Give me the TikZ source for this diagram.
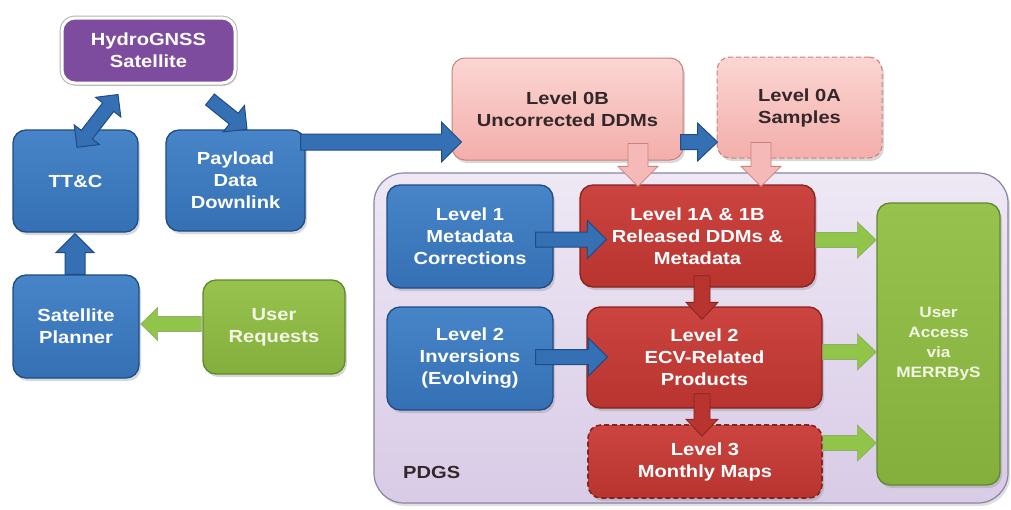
\documentclass[tikz,border=0pt]{standalone}
\usepackage{fontspec}
\newfontfamily\lab{Liberation Sans}[FakeStretch=1.15]
\usetikzlibrary{calc,shadows}
\definecolor{bluetop}{HTML}{4784C8}
\definecolor{bluebot}{HTML}{3570B4}
\definecolor{blueline}{HTML}{1F4C84}
\definecolor{redtop}{HTML}{CC4440}
\definecolor{redbot}{HTML}{B8342F}
\definecolor{redline}{HTML}{862321}
\definecolor{pinktop}{HTML}{FBD6D3}
\definecolor{pinkbot}{HTML}{F3AEAA}
\definecolor{pinkline}{HTML}{CC807A}
\definecolor{greentop}{HTML}{98C24E}
\definecolor{greenbot}{HTML}{84AF3C}
\definecolor{greenline}{HTML}{5E892C}
\definecolor{purplefill}{HTML}{7D4C9E}
\definecolor{pdgstop}{HTML}{EEE8F5}
\definecolor{pdgsbot}{HTML}{D8CBE6}
\definecolor{pdgsline}{HTML}{8C83A3}
\definecolor{darktext}{HTML}{33272A}
\definecolor{greentext}{HTML}{F3F7E6}
\newcommand\blockarrow[6]{%
  \coordinate (bac) at ($(#2)!#5!(#1)$);
  \draw[#6] ($(#1)!#3!90:(#2)$) -- ($(bac)!#3!90:(#2)$) -- ($(bac)!#4!90:(#2)$) -- (#2)
    -- ($(bac)!#4!-90:(#2)$) -- ($(bac)!#3!-90:(#2)$) -- ($(#1)!#3!-90:(#2)$) -- cycle;
}
\newcommand\dblarrow[6]{%
  \coordinate (dac) at ($(#1)!#5!(#2)$);
  \coordinate (dad) at ($(#2)!#5!(#1)$);
  \draw[#6] (#1) -- ($(dac)!#4!90:(#2)$) -- ($(dac)!#3!90:(#2)$) -- ($(dad)!#3!90:(#2)$)
    -- ($(dad)!#4!90:(#2)$) -- (#2) -- ($(dad)!#4!-90:(#2)$) -- ($(dad)!#3!-90:(#2)$)
    -- ($(dac)!#3!-90:(#2)$) -- ($(dac)!#4!-90:(#2)$) -- cycle;
}
\tikzset{
  boxbase/.style={rounded corners=13pt, align=center, inner sep=2pt,
    font=\lab\bfseries\fontsize{17.5}{22}\selectfont,
    drop shadow={shadow xshift=2pt, shadow yshift=-3pt, opacity=0.3}},
  bluebox/.style={boxbase, top color=bluetop, bottom color=bluebot, draw=blueline, line width=1.3pt, text=white},
  redbox/.style={boxbase, top color=redtop, bottom color=redbot, draw=redline, line width=1.3pt, text=white},
  pinkbox/.style={boxbase, top color=pinktop, bottom color=pinkbot, draw=pinkline, line width=1pt, text=darktext},
  greenbox/.style={boxbase, top color=greentop, bottom color=greenbot, draw=greenline, line width=1.3pt, text=greentext},
  purplebox/.style={boxbase, fill=purplefill, draw=white, line width=3pt, text=white,
    preaction={draw=black!30, line width=5pt}},
  pdgsbox/.style={rounded corners=30pt, top color=pdgstop, bottom color=pdgsbot, draw=pdgsline, line width=1.2pt,
    drop shadow={shadow xshift=2pt, shadow yshift=-3pt, opacity=0.25}},
  dashedline/.style={dash pattern=on 5pt off 3pt},
  bluearrow/.style={fill=bluebot, draw=blueline, line width=1pt, line join=miter},
  pinkarrow/.style={fill=pinkbot!85!white, draw=pinkline, line width=0.8pt, line join=miter},
  redarrow/.style={fill=redbot, draw=redline, line width=0.8pt, line join=miter},
  greenarrow/.style={fill=greentop!95!green, draw=greenline!70, line width=0.6pt, line join=miter},
  lbl/.style={font=\lab\bfseries\fontsize{17.5}{22}\selectfont, text=darktext, inner sep=0pt}
}
\begin{document}
\begin{tikzpicture}[x=1pt,y=-1pt]
\useasboundingbox[fill=white] (0,0) rectangle (1011,509);
% container
\node[pdgsbox, minimum width=634pt, minimum height=330pt] (pdgs) at (691,338) {};
\node[lbl, anchor=west] (pdgslbl) at (403,472) {PDGS};
% left part
\node[purplebox, minimum width=173pt, minimum height=65pt] (sat) at (148.5,50.5) {HydroGNSS\\Satellite};
\node[bluebox, minimum width=125pt, minimum height=102pt] (ttc) at (75.5,181) {TT\&C};
\node[bluebox, minimum width=139pt, minimum height=101pt] (pdl) at (235.5,180.5) {Payload\\Data\\Downlink};
\node[bluebox, minimum width=126pt, minimum height=103pt] (plan) at (76,326.5) {Satellite\\Planner};
\node[greenbox, minimum width=142pt, minimum height=94pt] (ureq) at (274,327) {User\\Requests};
% level 0
\node[pinkbox, minimum width=231pt, minimum height=102pt] (l0b) at (567.5,109) {Level 0B\\Uncorrected DDMs};
\node[pinkbox, dashedline, minimum width=165pt, minimum height=101pt] (l0a) at (799.5,107.5) {Level 0A\\Samples};
% PDGS content
\node[bluebox, minimum width=166pt, minimum height=103pt] (l1) at (470,236.5) {Level 1\\Metadata\\Corrections};
\node[bluebox, minimum width=166pt, minimum height=103pt] (l2i) at (470,358.5) {Level 2\\Inversions\\(Evolving)};
\node[redbox, minimum width=235pt, minimum height=102pt] (l1ab) at (697.5,236) {Level 1A \& 1B\\Released DDMs \&\\Metadata};
\node[redbox, minimum width=235pt, minimum height=101pt] (l2e) at (704.5,357.5) {Level 2\\ECV-Related\\Products};
\node[redbox, dashedline, line width=1.6pt, minimum width=234pt, minimum height=73pt] (l3) at (705,461.5) {Level 3\\Monthly Maps};
\node[greenbox, minimum width=123pt, minimum height=282pt, font=\lab\bfseries\fontsize{15}{20}\selectfont] (ua) at (938.5,344) {User\\Access\\via\\MERRByS};
% arrow end points
\coordinate (a1s) at ($(ttc.north)+(1.5,18)$);
\coordinate (a1e) at ($(sat.south)+(-30.5,10)$);
\coordinate (a2s) at ($(sat.south)+(61.5,15)$);
\coordinate (a2e) at ($(pdl.north)+(11.5,0)$);
\coordinate (a3s) at ($(pdl.east)+(-5,-38.5)$);
\coordinate (a3e) at ($(l0b.west)+(10,33)$);
\coordinate (a4s) at ($(l0b.east)+(-3,33)$);
\coordinate (a4e) at ($(l0a.west)+(1,34.5)$);
\coordinate (a5s) at ($(l0b.south)+(70.5,-17)$);
\coordinate (a5e) at ($(l1ab.north)+(-59.5,2)$);
\coordinate (a6s) at ($(l0a.south)+(-38.5,-16)$);
\coordinate (a6e) at ($(l1ab.north)+(63.5,2)$);
\coordinate (a7s) at ($(l1.east)+(-18,3)$);
\coordinate (a7e) at ($(l1ab.west)+(27,3.5)$);
\coordinate (a8s) at ($(l2i.east)+(-18,-1.5)$);
\coordinate (a8e) at ($(l2e.west)+(21,-0.5)$);
\coordinate (a9s) at ($(l1ab.south)+(4.5,-12)$);
\coordinate (a9e) at ($(l2e.north)+(-2.5,13)$);
\coordinate (a10s) at ($(l2e.south)+(-2.5,-15)$);
\coordinate (a10e) at ($(l3.north)+(-3,12)$);
\coordinate (a11s) at ($(l1ab.east)+(0,4)$);
\coordinate (a11e) at ($(ua.west)+(0,-104)$);
\coordinate (a12s) at ($(l2e.east)+(0,-5.5)$);
\coordinate (a12e) at ($(ua.west)+(0,8)$);
\coordinate (a13s) at ($(l3.east)+(0,-18.5)$);
\coordinate (a13e) at ($(ua.west)+(0,99)$);
\coordinate (a14s) at ($(ureq.west)+(-1,-3)$);
\coordinate (a14e) at ($(plan.east)+(1,-2.5)$);
\coordinate (a15s) at ($(plan.north)+(-1,0)$);
\coordinate (a15e) at ($(ttc.south)+(-0.5,1)$);
% arrows
\dblarrow{a1s}{a1e}{7pt}{16pt}{16pt}{bluearrow}
\blockarrow{a2s}{a2e}{7pt}{17pt}{17pt}{bluearrow}
\blockarrow{a3s}{a3e}{8pt}{20pt}{20pt}{bluearrow}
\blockarrow{a4s}{a4e}{7.5pt}{19pt}{20pt}{bluearrow}
\blockarrow{a5s}{a5e}{10pt}{20pt}{20pt}{pinkarrow}
\blockarrow{a6s}{a6e}{10pt}{20pt}{20pt}{pinkarrow}
\blockarrow{a7s}{a7e}{7.5pt}{19pt}{19pt}{bluearrow}
\blockarrow{a8s}{a8e}{7.5pt}{19pt}{19pt}{bluearrow}
\blockarrow{a9s}{a9e}{8pt}{16pt}{17pt}{redarrow}
\blockarrow{a10s}{a10e}{8pt}{16pt}{17pt}{redarrow}
\blockarrow{a11s}{a11e}{7.5pt}{18pt}{19pt}{greenarrow}
\blockarrow{a12s}{a12e}{7.5pt}{18pt}{19pt}{greenarrow}
\blockarrow{a13s}{a13e}{7.5pt}{18pt}{19pt}{greenarrow}
\blockarrow{a14s}{a14e}{7.5pt}{16.5pt}{17pt}{greenarrow}
\blockarrow{a15s}{a15e}{10pt}{19pt}{19pt}{bluearrow}
\end{tikzpicture}
\end{document}
